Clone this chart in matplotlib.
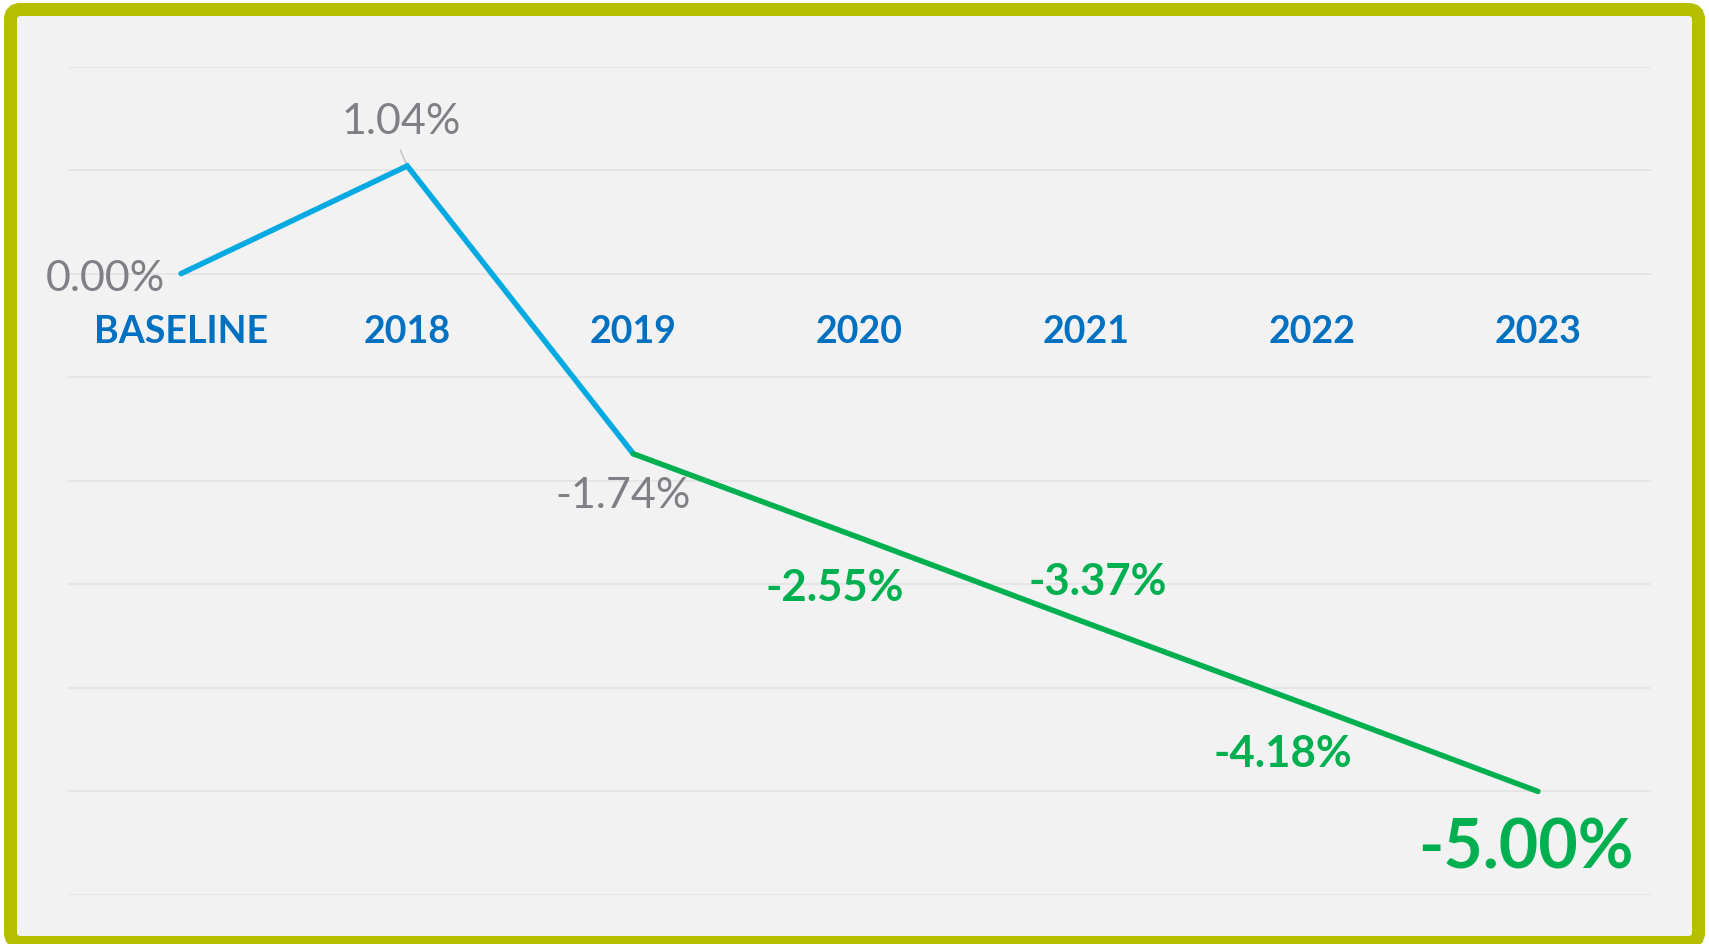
import matplotlib
matplotlib.use("Agg")
import matplotlib.pyplot as plt
from matplotlib.patches import FancyBboxPatch
from matplotlib.transforms import IdentityTransform

categories = ["BASELINE", "2018", "2019", "2020", "2021", "2022", "2023"]
values = [0.00, 1.04, -1.74, -2.55, -3.37, -4.18, -5.00]
labels = ["0.00%", "1.04%", "-1.74%", "-2.55%", "-3.37%", "-4.18%", "-5.00%"]
actual_count = 3  # first three points are actual (blue), rest projected (green)

BLUE_LINE = "#03A9E1"
GREEN = "#00B050"
GRAY_TXT = "#7F7F85"
CAT_BLUE = "#0070C0"
BORDER = "#B5BF00"
BG = "#F2F2F2"

W, H, DPI = 1709, 944, 100
fig = plt.figure(figsize=(W / DPI, H / DPI), dpi=DPI)
fig.patch.set_facecolor("white")

frame = FancyBboxPatch((10.5, 1.5), 1688, 933,
                       boxstyle="round,pad=0,rounding_size=10",
                       transform=IdentityTransform(),
                       facecolor=BG, edgecolor=BORDER, linewidth=13 * 72 / DPI,
                       zorder=-1)
fig.patches.append(frame)

left, right = 68 / W, 1651 / W
bottom, top = 1 - 895 / H, 1 - 66.5 / H
ax = fig.add_axes([left, bottom, right - left, top - bottom])
ax.set_zorder(2)
ax.set_facecolor("none")
x = list(range(len(categories)))
ax.set_xlim(-0.5, len(categories) - 0.5)
ax.set_ylim(-6, 2)
ax.set_yticks(range(-6, 3))
ax.set_xticks([])
ax.tick_params(left=False, labelleft=False)
ax.grid(axis="y", color="#E2E2E2", linewidth=1.1)
ax.set_axisbelow(True)
for s in ax.spines.values():
    s.set_visible(False)

lw = 5.5 * 72 / DPI
ax.plot(x[:actual_count], values[:actual_count], color=BLUE_LINE, lw=lw,
        solid_capstyle="round", solid_joinstyle="miter", zorder=3)
ax.plot(x[actual_count - 1:], values[actual_count - 1:], color=GREEN, lw=lw,
        solid_capstyle="round", solid_joinstyle="miter", zorder=3)

# category labels
for xi, c in zip(x, categories):
    ax.annotate(c, (xi, 0), xytext=(0, -69), textcoords="offset pixels",
                ha="center", va="baseline", fontsize=27, fontweight="bold",
                family="Lato", color=CAT_BLUE)

# data labels: (dx, dy pixels, ha, size, weight, color)
styles = [
    (-16, -17, "right", 31, "normal", GRAY_TXT),
    (-6.5, 32, "center", 31, "normal", GRAY_TXT),
    (-10.5, -54, "center", 31, "normal", GRAY_TXT),
    (-25, -63, "center", 31.5, "bold", GREEN),
    (12.5, 28, "center", 31.5, "bold", GREEN),
    (-29, -60, "center", 31.5, "bold", GREEN),
    (-12, -77, "center", 49, "bold", GREEN),
]
for xi, v, t, (dx, dy, ha, fs, fw, col) in zip(x, values, labels, styles):
    ax.annotate(t, (xi, v), xytext=(dx, dy), textcoords="offset pixels",
                ha=ha, va="baseline", fontsize=fs, fontweight=fw,
                family="Lato", color=col, zorder=4)

# leader line for 2018 label
ax.annotate("", (x[1], values[1]), xytext=(-7, 16), textcoords="offset pixels",
            arrowprops=dict(arrowstyle="-", color="#BFBFBF", lw=1.0,
                            shrinkA=0, shrinkB=1), zorder=2)

fig.savefig("out.png", dpi=DPI, facecolor="white")
